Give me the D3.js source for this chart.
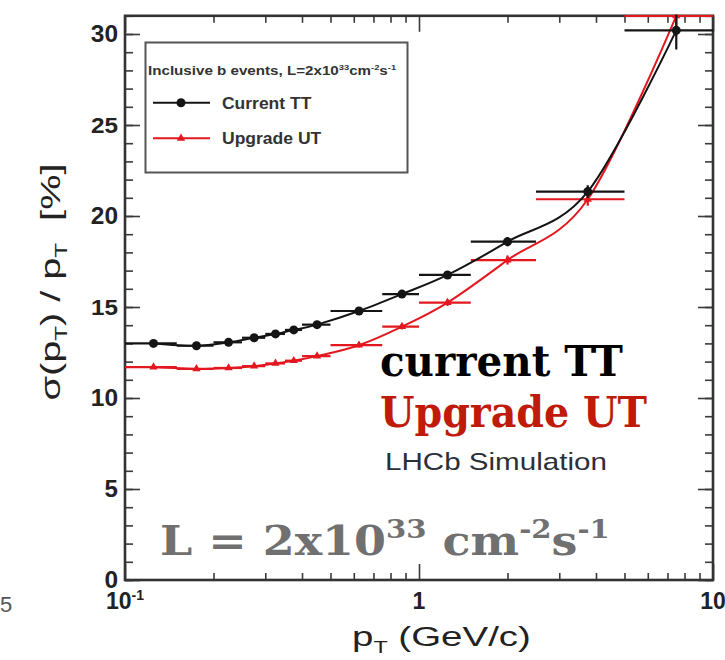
<!DOCTYPE html>
<html>
<head>
<meta charset="utf-8">
<script src="https://cdn.jsdelivr.net/npm/d3@7/dist/d3.min.js"></script>
<style>
  html, body { margin: 0; padding: 0; background: #fff; }
  svg { display: block; }
</style>
</head>
<body>
<svg id="chart" width="725" height="660"></svg>
<script>
// Relative transverse-momentum resolution vs pT, inclusive b events
const binLow     = [0.10, 0.15, 0.20, 0.25, 0.30, 0.35, 0.40, 0.50, 0.75, 1.00, 1.50, 2.50, 5.00];
const binHigh    = [0.15, 0.20, 0.25, 0.30, 0.35, 0.40, 0.50, 0.75, 1.00, 1.50, 2.50, 5.00, 10.0];
const binCenter  = [0.125, 0.175, 0.225, 0.275, 0.325, 0.375, 0.45, 0.625, 0.875, 1.25, 2.0, 3.75, 7.5];
const currentTT  = [13.00, 12.87, 13.06, 13.31, 13.52, 13.74, 14.03, 14.78, 15.71, 16.76, 18.59, 21.34, 30.2];
const currentErr = [0.10, 0.10, 0.10, 0.10, 0.10, 0.10, 0.10, 0.12, 0.15, 0.18, 0.25, 0.35, 1.05];
const upgradeUT  = [11.70, 11.60, 11.65, 11.75, 11.90, 12.05, 12.30, 12.90, 13.92, 15.24, 17.58, 20.92, 31.0];
const upgradeErr = [0.10, 0.10, 0.10, 0.10, 0.10, 0.10, 0.10, 0.12, 0.15, 0.18, 0.25, 0.35, 1.10];

const xMajorTicks = [0.1, 1, 10];
const xMinorTicks = [0.2, 0.3, 0.4, 0.5, 0.6, 0.7, 0.8, 0.9, 2, 3, 4, 5, 6, 7, 8, 9];
const yMajorTicks = [0, 5, 10, 15, 20, 25, 30];
const yMinorTicks = d3.range(0, 32, 1);

const seriesNames = ["Current TT", "Upgrade UT"];
const BLACK = "#141414";
const RED = "#e3171f";

const svg = d3.select("#chart");
const L = 125, R = 713, T = 15.8, B = 580;

const x = d3.scaleLog().domain([0.1, 10]).range([L, R]);
const y = d3.scaleLinear().domain([0, 31]).range([B, T]);

const sans = "'Liberation Sans', Arial, Helvetica, sans-serif";
const serif = "'DejaVu Serif Condensed', 'DejaVu Serif', serif";

// stretch a text node horizontally about anchorX so it spans width w
function stretch(sel, anchorX, w) {
  const bw = sel.node().getBBox().width;
  const s = w / bw;
  sel.attr("transform", `translate(${anchorX},0) scale(${s},1) translate(${-anchorX},0)`);
}

// ---- axes (ticks point inward on all four sides) ----
function axisLayer(axis, tx, ty) {
  const g = svg.append("g").attr("transform", `translate(${tx},${ty})`).call(axis);
  g.select(".domain").remove();
  g.selectAll("line").attr("stroke", "#3a3a3a").attr("stroke-width", 1.6);
  g.selectAll("text").remove();
  return g;
}
axisLayer(d3.axisBottom(x).tickValues(xMinorTicks).tickSize(-7), 0, B);
axisLayer(d3.axisBottom(x).tickValues(xMajorTicks).tickSize(-16), 0, B);
axisLayer(d3.axisTop(x).tickValues(xMinorTicks).tickSize(-7), 0, T);
axisLayer(d3.axisTop(x).tickValues(xMajorTicks).tickSize(-16), 0, T);
axisLayer(d3.axisLeft(y).tickValues(yMinorTicks).tickSize(-8), L, 0);
axisLayer(d3.axisLeft(y).tickValues(yMajorTicks).tickSize(-15), L, 0);
axisLayer(d3.axisRight(y).tickValues(yMinorTicks).tickSize(-8), R, 0);
axisLayer(d3.axisRight(y).tickValues(yMajorTicks).tickSize(-15), R, 0);

// y tick labels
yMajorTicks.forEach(v => {
  const t = svg.append("text")
    .attr("x", 118).attr("y", y(v)).attr("dy", "0.36em")
    .attr("text-anchor", "end")
    .attr("font-family", sans).attr("font-weight", "bold").attr("font-size", 23)
    .attr("fill", "#222").text(String(v));
  stretch(t, 118, 13.6 * String(v).length);
});

// x tick labels
function xLabel(v, base, exp) {
  const t = svg.append("text")
    .attr("x", x(v)).attr("y", 609)
    .attr("text-anchor", "middle")
    .attr("font-family", sans).attr("font-weight", "bold").attr("font-size", 23)
    .attr("fill", "#222");
  t.append("tspan").text(base);
  if (exp) t.append("tspan").attr("dy", -9).attr("font-size", 14).text(exp);
  return t;
}
xLabel(0.1, "10", "-1");
xLabel(1, "1");
xLabel(10, "10");

// frame
svg.append("rect")
  .attr("x", L).attr("y", T).attr("width", R - L).attr("height", B - T)
  .attr("fill", "none").attr("stroke", "#333").attr("stroke-width", 2.6);

// axis titles
const xt = svg.append("text")
  .attr("x", 352).attr("y", 646)
  .attr("font-family", sans).attr("font-size", 28).attr("fill", "#222");
xt.append("tspan").text("p");
xt.append("tspan").attr("dy", 7).attr("font-size", 17).text("T");
xt.append("tspan").attr("dy", -7).text(" (GeV/c)");
stretch(xt, 352, 179);

const ytg = svg.append("g").attr("transform", "translate(60,282) rotate(-90)");
const yt = ytg.append("text")
  .attr("x", 0).attr("y", 0).attr("text-anchor", "middle")
  .attr("font-family", sans).attr("font-size", 28).attr("fill", "#222");
yt.append("tspan").text("σ(p");
yt.append("tspan").attr("dy", 7).attr("font-size", 17).text("T");
yt.append("tspan").attr("dy", -7).text(") / p");
yt.append("tspan").attr("dy", 7).attr("font-size", 17).text("T");
yt.append("tspan").attr("dy", -7).attr("xml:space", "preserve").text("  [%]");
stretch(yt, 0, 237);

// ---- data ----
svg.append("clipPath").attr("id", "plotClip")
  .append("rect").attr("x", L).attr("y", T - 1).attr("width", R - L).attr("height", B - T + 1);
const plot = svg.append("g").attr("clip-path", "url(#plotClip)");

const series = [
  { name: seriesNames[0], vals: currentTT, errs: currentErr, color: BLACK, marker: "circle" },
  { name: seriesNames[1], vals: upgradeUT, errs: upgradeErr, color: RED, marker: "triangle" }
];

// smooth curve through the bin centres
const line = d3.line()
  .x(d => x(d.pt)).y(d => y(d.v))
  .curve(d3.curveCatmullRom.alpha(0));

// draw red first so the black sits on top
series.slice().reverse().forEach(s => {
  const pts = binCenter.map((pt, i) => ({ pt, v: s.vals[i], e: s.errs[i], lo: binLow[i], hi: binHigh[i] }));
  const g = plot.append("g");
  g.append("path").datum(pts).attr("d", line)
    .attr("fill", "none").attr("stroke", s.color).attr("stroke-width", 2);
  g.selectAll("line.h").data(pts).join("line")
    .attr("x1", d => x(d.lo)).attr("x2", d => x(d.hi))
    .attr("y1", d => y(d.v)).attr("y2", d => y(d.v))
    .attr("stroke", s.color).attr("stroke-width", 2.2);
  g.selectAll("line.v").data(pts).join("line")
    .attr("x1", d => x(d.pt)).attr("x2", d => x(d.pt))
    .attr("y1", d => y(d.v - d.e)).attr("y2", d => y(d.v + d.e))
    .attr("stroke", s.color).attr("stroke-width", 2.2);
  if (s.marker === "circle") {
    g.selectAll("circle").data(pts).join("circle")
      .attr("cx", d => x(d.pt)).attr("cy", d => y(d.v)).attr("r", 4.5)
      .attr("fill", s.color);
  } else {
    g.selectAll("path.m").data(pts).join("path")
      .attr("transform", d => `translate(${x(d.pt)},${y(d.v)})`)
      .attr("d", d3.symbol(d3.symbolTriangle, 30))
      .attr("fill", s.color);
  }
});

// ---- legend ----
const lg = svg.append("g");
lg.append("rect").attr("x", 145.5).attr("y", 42.5).attr("width", 262).attr("height", 130)
  .attr("fill", "#fff").attr("stroke", "#555").attr("stroke-width", 2);
const head = lg.append("text").attr("x", 148).attr("y", 75.5)
  .attr("font-family", sans).attr("font-weight", "bold").attr("font-size", 13).attr("fill", "#333");
head.append("tspan").text("Inclusive b events, L=2x10");
head.append("tspan").attr("dy", -5).attr("font-size", 8).text("33");
head.append("tspan").attr("dy", 5).text("cm");
head.append("tspan").attr("dy", -5).attr("font-size", 8).text("-2");
head.append("tspan").attr("dy", 5).text("s");
head.append("tspan").attr("dy", -5).attr("font-size", 8).text("-1");
stretch(head, 148, 249);

const entryY = [102.7, 138.3];
series.forEach((s, i) => {
  const yy = entryY[i];
  lg.append("line").attr("x1", 153).attr("x2", 210).attr("y1", yy).attr("y2", yy)
    .attr("stroke", s.color).attr("stroke-width", 2);
  if (s.marker === "circle") {
    lg.append("circle").attr("cx", 181).attr("cy", yy).attr("r", 4.5).attr("fill", s.color);
  } else {
    lg.append("path").attr("transform", `translate(181,${yy})`)
      .attr("d", d3.symbol(d3.symbolTriangle, 30)).attr("fill", s.color);
  }
  const t = lg.append("text").attr("x", 222).attr("y", yy + 6)
    .attr("font-family", sans).attr("font-weight", "bold").attr("font-size", 17)
    .attr("fill", "#333").text(s.name);
  stretch(t, 222, i === 0 ? 90 : 100);
});

// ---- annotations ----
const a1 = svg.append("text").attr("x", 380).attr("y", 376)
  .attr("font-family", serif).attr("font-weight", "bold").attr("font-size", 42)
  .attr("fill", "#000").text("current TT");
stretch(a1, 380, 243);
const a2 = svg.append("text").attr("x", 380).attr("y", 427)
  .attr("font-family", serif).attr("font-weight", "bold").attr("font-size", 42)
  .attr("fill", "#c01a0a").text("Upgrade UT");
stretch(a2, 380, 267);

const sim = svg.append("text").attr("x", 385).attr("y", 470)
  .attr("font-family", sans).attr("font-size", 24).attr("fill", "#2b2f38").text("LHCb Simulation");
stretch(sim, 385, 222);

const lum = svg.append("text").attr("x", 160).attr("y", 555)
  .attr("font-family", serif).attr("font-weight", "bold").attr("font-size", 41).attr("fill", "#707070");
lum.append("tspan").text("L = 2x10");
lum.append("tspan").attr("dy", -17).attr("font-size", 26).text("33");
lum.append("tspan").attr("dy", 17).text(" cm");
lum.append("tspan").attr("dy", -17).attr("font-size", 26).text("-2");
lum.append("tspan").attr("dy", 17).text("s");
lum.append("tspan").attr("dy", -17).attr("font-size", 26).text("-1");
stretch(lum, 160, 450);

// page-number fragment at the lower left edge
svg.append("text").attr("x", 0).attr("y", 612)
  .attr("font-family", sans).attr("font-size", 22).attr("fill", "#555").text("5");
</script>
</body>
</html>
